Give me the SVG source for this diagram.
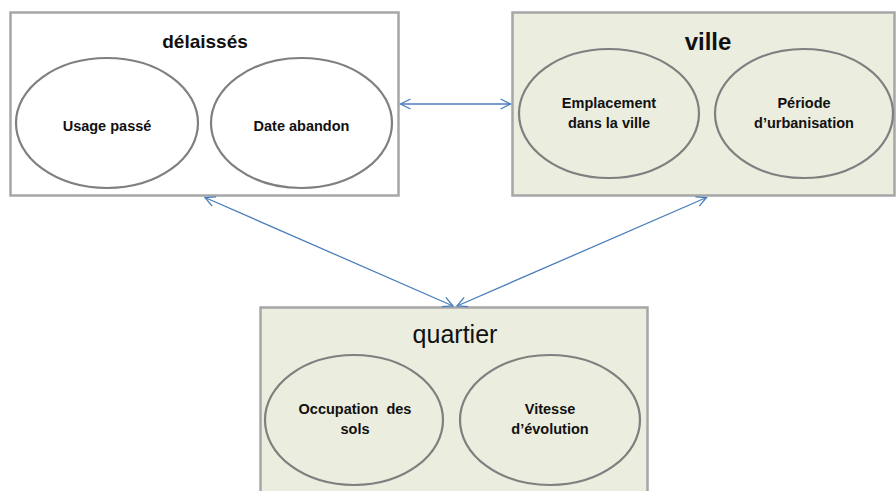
<svg xmlns="http://www.w3.org/2000/svg" width="896" height="491" viewBox="0 0 896 491">
<style>
.box{stroke:#A6A6A6;stroke-width:2.5}
.white{fill:#FFFFFF}
.green{fill:#EBEDDE}
.ell{fill:none;stroke:#7F7F7F;stroke-width:2.2}
.t{font-family:"Liberation Sans",Arial,sans-serif;text-anchor:middle;fill:#111}
.b{font-weight:bold}
.lab{font-size:14.5px;font-weight:bold}
.con{stroke:#4A7EBB;stroke-width:1.3;fill:none}
</style>
<defs>
<marker id="ah" markerUnits="userSpaceOnUse" markerWidth="14" markerHeight="14" viewBox="-12 -6 14 12" refX="0" refY="0" orient="auto-start-reverse">
<path d="M-10,-5 L0,0 L-10,5" fill="none" stroke="#4A7EBB" stroke-width="1.3"/>
</marker>
</defs>
<rect width="896" height="491" fill="#FFFFFF"/>
<g id="delaisses">
<rect class="box white" x="10.5" y="12.5" width="388" height="183"/>
<text class="t b" x="205" y="48" font-size="19">délaissés</text>
<ellipse class="ell" cx="107" cy="123" rx="91" ry="65"/>
<text class="t lab" x="107" y="131">Usage passé</text>
<ellipse class="ell" cx="301.5" cy="123" rx="90.5" ry="65"/>
<text class="t lab" x="301.5" y="131">Date abandon</text>
</g>
<g id="ville">
<rect class="box green" x="512.5" y="12.5" width="382" height="183"/>
<text class="t b" x="708" y="50" font-size="24">ville</text>
<ellipse class="ell" cx="609" cy="113.5" rx="90" ry="64.5"/>
<text class="t lab" x="609" y="108">Emplacement</text>
<text class="t lab" x="609" y="128">dans la ville</text>
<ellipse class="ell" cx="804" cy="113.5" rx="89" ry="64.5"/>
<text class="t lab" x="804" y="108">Période</text>
<text class="t lab" x="804" y="128">d’urbanisation</text>
</g>
<g id="quartier">
<rect class="box green" x="260.5" y="307.5" width="387" height="200"/>
<text class="t" x="455" y="343" font-size="25">quartier</text>
<ellipse class="ell" cx="354" cy="420" rx="89" ry="65"/>
<text class="t lab" x="355" y="414">Occupation&#160; des</text>
<text class="t lab" x="355" y="434">sols</text>
<ellipse class="ell" cx="550" cy="420" rx="90" ry="65"/>
<text class="t lab" x="550" y="414">Vitesse</text>
<text class="t lab" x="550" y="434">d’évolution</text>
</g>
<g id="connectors">
<line class="con" x1="400.5" y1="104" x2="510.5" y2="104" marker-start="url(#ah)" marker-end="url(#ah)"/>
<line class="con" x1="205" y1="197.5" x2="453" y2="306" marker-start="url(#ah)" marker-end="url(#ah)"/>
<line class="con" x1="706.5" y1="197.5" x2="457" y2="306" marker-start="url(#ah)" marker-end="url(#ah)"/>
</g>
</svg>
